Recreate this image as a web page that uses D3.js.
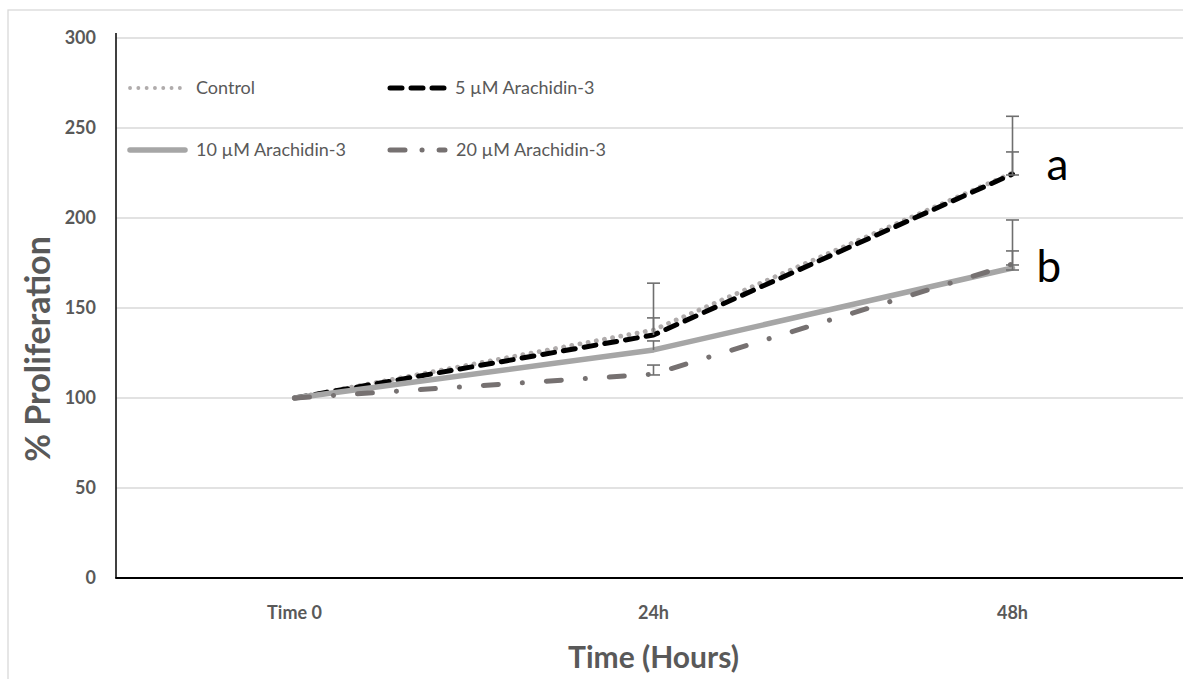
<!DOCTYPE html>
<meta charset="utf-8">
<head>
    <script src="https://cdnjs.cloudflare.com/ajax/libs/d3/7.8.5/d3.min.js"></script>
</head>
<style>
    html, body {
        margin: 0;
        background-color: #fff;
    }
    * {
        font-family: Lato, "Open Sans", sans-serif;
    }
    .tick-label {
        fill: #595959;
        font-weight: bold;
        font-size: 18px;
    }
    .axis-title {
        fill: #595959;
        font-weight: bold;
    }
    .legend-text {
        fill: #595959;
        font-size: 18px;
    }
</style>
<body>
<svg width="1183" height="679"></svg>
<script>

// chart values
var categories = ["Time 0", "24h", "48h"];
var seriesNames = ["Control", "5 µM Arachidin-3", "10 µM Arachidin-3", "20 µM Arachidin-3"];

var control = [100, 137.8, 225],
    ara5 = [100, 135, 224.4],
    ara10 = [100, 126.7, 172.2],
    ara20 = [100, 113.3, 174.4];

var controlErrUp = [0, 26, 31.5],
    ara5ErrUp = [0, 9.5, 12.3],
    ara10ErrUp = [0, 5, 26.7],
    ara20ErrUp = [0, 5, 7.3];

var controlErrDown = [0, 0, 0],
    ara5ErrDown = [0, 0, 0.5],
    ara10ErrDown = [0, 0, 1.1],
    ara20ErrDown = [0, 0.5, 0.5];

var yTicks = [0, 50, 100, 150, 200, 250, 300];
var groupLabels = [{text: "a", at: 1}, {text: "b", at: 3}];

var svg = d3.select("svg"),
    width = +svg.attr("width"),
    height = +svg.attr("height");

var plotLeft = 116, plotBottom = 578, plotTop = 38, step = 359;

var x = d3.scaleBand().domain(categories).range([plotLeft - 1, plotLeft - 1 + step * categories.length]),
    y = d3.scaleLinear().domain([0, 300]).range([plotBottom, plotTop]);

function cx(c) { return x(c) + x.bandwidth() / 2; }

var styles = [
    {color: "#b0acac", width: 4.8, dash: "0.1 8.2", cap: "round"},
    {color: "#000000", width: 5, dash: "12 9", cap: "round"},
    {color: "#a6a6a6", width: 5.5, dash: null, cap: "round"},
    {color: "#767171", width: 5, dash: "15 24 0.1 24", cap: "round"}
];

var series = [
    {name: seriesNames[0], values: control, up: controlErrUp, down: controlErrDown},
    {name: seriesNames[1], values: ara5, up: ara5ErrUp, down: ara5ErrDown},
    {name: seriesNames[2], values: ara10, up: ara10ErrUp, down: ara10ErrDown},
    {name: seriesNames[3], values: ara20, up: ara20ErrUp, down: ara20ErrDown}
];

// outer chart frame
svg.append("rect")
    .attr("x", 8).attr("y", 10)
    .attr("width", width + 20).attr("height", height + 20)
    .attr("fill", "none").attr("stroke", "#d9d9d9").attr("stroke-width", 1.3);

// gridlines
svg.append("g").selectAll("line")
    .data(yTicks.filter(function(d) { return d > 0; }))
    .enter().append("line")
    .attr("x1", plotLeft).attr("x2", width)
    .attr("y1", function(d) { return y(d); })
    .attr("y2", function(d) { return y(d); })
    .attr("stroke", "#d9d9d9").attr("stroke-width", 1.5);

// y tick labels
svg.append("g").selectAll("text")
    .data(yTicks)
    .enter().append("text")
    .attr("class", "tick-label")
    .attr("x", 96)
    .attr("y", function(d) { return y(d); })
    .attr("dy", "0.35em")
    .attr("text-anchor", "end")
    .text(function(d) { return d; });

// x tick labels
svg.append("g").selectAll("text")
    .data(categories)
    .enter().append("text")
    .attr("class", "tick-label")
    .attr("x", function(d) { return cx(d); })
    .attr("y", 613)
    .attr("dy", "0.35em")
    .attr("text-anchor", "middle")
    .text(function(d) { return d; });

// axis titles
svg.append("text")
    .attr("class", "axis-title")
    .attr("x", cx(categories[1]))
    .attr("y", 668)
    .attr("text-anchor", "middle")
    .style("font-size", "30px")
    .text("Time (Hours)");

svg.append("text")
    .attr("class", "axis-title")
    .attr("transform", "translate(50,349) rotate(-90)")
    .attr("text-anchor", "middle")
    .style("font-size", "34px")
    .text("% Proliferation");

// series lines
var line = d3.line()
    .x(function(d, i) { return cx(categories[i]); })
    .y(function(d) { return y(d); });

svg.append("g").selectAll("path")
    .data(series)
    .enter().append("path")
    .attr("d", function(d) { return line(d.values); })
    .attr("fill", "none")
    .attr("stroke", function(d, i) { return styles[i].color; })
    .attr("stroke-width", function(d, i) { return styles[i].width; })
    .attr("stroke-dasharray", function(d, i) { return styles[i].dash; })
    .attr("stroke-linecap", function(d, i) { return styles[i].cap; })
    .attr("stroke-linejoin", "round");

// error bars
var bars = [];
series.forEach(function(s) {
    s.values.forEach(function(v, i) {
        if (s.up[i] > 0 || s.down[i] > 0) {
            bars.push({c: categories[i], v: v, hi: v + s.up[i], lo: v - s.down[i], hasLo: s.down[i] > 0});
        }
    });
});

var eb = svg.append("g").attr("stroke", "#6f6f6f").attr("stroke-width", 1.6);
bars.forEach(function(b) {
    var xc = cx(b.c);
    eb.append("line").attr("x1", xc).attr("x2", xc).attr("y1", y(b.hi)).attr("y2", y(b.lo));
    eb.append("line").attr("x1", xc - 6.5).attr("x2", xc + 6.5).attr("y1", y(b.hi)).attr("y2", y(b.hi));
    if (b.hasLo) {
        eb.append("line").attr("x1", xc - 6.5).attr("x2", xc + 6.5).attr("y1", y(b.lo)).attr("y2", y(b.lo));
    }
});

// axes lines
svg.append("line")
    .attr("x1", plotLeft).attr("x2", plotLeft).attr("y1", plotTop - 5).attr("y2", plotBottom)
    .attr("stroke", "#000").attr("stroke-width", 1.5);
svg.append("line")
    .attr("x1", plotLeft - 0.75).attr("x2", width).attr("y1", plotBottom).attr("y2", plotBottom)
    .attr("stroke", "#000").attr("stroke-width", 2);

// significance letters
svg.append("g").selectAll("text")
    .data(groupLabels)
    .enter().append("text")
    .attr("x", function(d) { return cx(categories[2]) + (d.text == "a" ? 34 : 24); })
    .attr("y", function(d) { return y(series[d.at].values[2]) + (d.text == "a" ? 6 : 18); })
    .attr("fill", "#000")
    .style("font-size", "44px")
    .text(function(d) { return d.text; });

// legend
var legendItems = [
    {x: 130, y: 88, tx: 196},
    {x: 390, y: 88, tx: 455},
    {x: 130, y: 150, tx: 196},
    {x: 390, y: 150, tx: 456}
];

var legend = svg.append("g").selectAll("g")
    .data(series)
    .enter().append("g");

legend.append("line")
    .attr("x1", function(d, i) { return legendItems[i].x; })
    .attr("x2", function(d, i) { return legendItems[i].x + 55; })
    .attr("y1", function(d, i) { return legendItems[i].y; })
    .attr("y2", function(d, i) { return legendItems[i].y; })
    .attr("stroke", function(d, i) { return styles[i].color; })
    .attr("stroke-width", function(d, i) { return i == 0 ? 3.8 : styles[i].width; })
    .attr("stroke-dasharray", function(d, i) { return i == 3 ? "15 17 0.1 17" : (i == 0 ? "0.1 8.2" : styles[i].dash); })
    .attr("stroke-linecap", "round");

legend.append("text")
    .attr("class", "legend-text")
    .attr("x", function(d, i) { return legendItems[i].tx; })
    .attr("y", function(d, i) { return legendItems[i].y; })
    .attr("dy", "0.35em")
    .text(function(d) { return d.name; });

</script>
</body>
